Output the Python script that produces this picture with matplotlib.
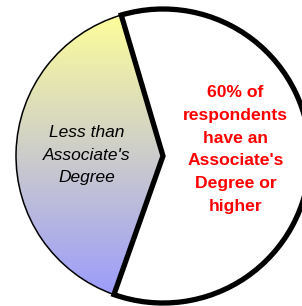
import numpy as np
import matplotlib
matplotlib.use("Agg")
import matplotlib.pyplot as plt
from matplotlib.colors import LinearSegmentedColormap

values = [60, 40]
labels = ["60% of\nrespondents\nhave an\nAssociate's\nDegree or\nhigher",
          "Less than\nAssociate's\nDegree"]
gradient_top = "#FFFF99"
gradient_bottom = "#9999FF"

W, H = 302, 306
fig = plt.figure(figsize=(W / 100, H / 100), dpi=100)
ax = fig.add_axes([0, 0, 1, 1])

cx, cy, r = 163, H - 156, 147
wedges, _ = ax.pie(values, startangle=-109.5, counterclock=True,
                   center=(cx, cy), radius=r, frame=True,
                   colors=["white", "white"])
ax.set_xlim(0, W)
ax.set_ylim(0, H)
ax.set_aspect("equal")
ax.axis("off")

white, colored = wedges
colored.set_facecolor("none")
colored.set_edgecolor("black")
colored.set_linewidth(1.1)
colored.set_zorder(3)

cmap = LinearSegmentedColormap.from_list("g", [gradient_bottom, gradient_top])
grad = np.linspace(0, 1, 256).reshape(-1, 1)
im = ax.imshow(grad, cmap=cmap, origin="lower", aspect="auto",
               extent=(cx - r, cx + r, cy - r, cy + r), zorder=2)
im.set_clip_path(colored)

white.set_facecolor("white")
white.set_edgecolor("black")
white.set_linewidth(3.8)
white.set_joinstyle("miter")
white.set_zorder(4)

ax.text(87, H - 155, labels[1], ha="center", va="center", fontsize=12.5,
        style="italic", family="Liberation Sans", color="black",
        linespacing=1.6, zorder=5)
ax.text(235.5, H - 149.5, labels[0], ha="center", va="center", fontsize=12.6,
        weight="bold", family="Liberation Sans", color="#FF0000",
        linespacing=1.64, zorder=5)

fig.savefig("out.png", dpi=100)
